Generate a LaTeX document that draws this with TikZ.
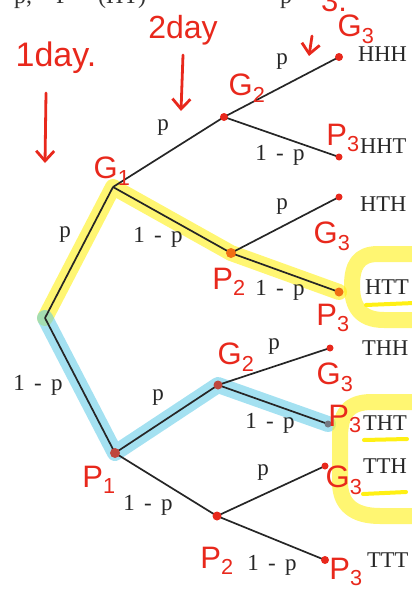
\documentclass[tikz,border=0pt]{standalone}
\usepackage{fontspec}
\setmainfont{Liberation Serif}
\newfontfamily\handfont{Liberation Sans}
\usetikzlibrary{arrows.meta}
\definecolor{annred}{RGB}{232,40,28}
\definecolor{dotorange}{RGB}{240,110,20}
\definecolor{dotbrown}{RGB}{190,70,60}
\definecolor{dotgray}{RGB}{115,120,130}
\definecolor{hlyellow}{RGB}{255,240,20}
\definecolor{hlcyan}{RGB}{90,200,230}
\begin{document}
\begin{tikzpicture}[x=1pt,y=-1pt,
  edge/.style={draw=black!85,line width=1.7pt},
  outcome/.style={font=\fontsize{22.5}{22.5}\selectfont,anchor=west,inner sep=0pt,text=black!85},
  lab/.style={font=\fontsize{23}{23}\selectfont,inner sep=0pt,text=black!85},
  toptext/.style={font=\fontsize{24}{24}\selectfont,anchor=base west,inner sep=0pt,text=black!80},
  ann/.style={font=\handfont\fontsize{31}{31}\selectfont,inner sep=0pt,text=annred},
  dot/.style={circle,fill=annred,minimum size=8pt,inner sep=0pt},
  hly/.style={draw=hlyellow,opacity=0.6,line width=16pt,line cap=round,line join=round},
  hlc/.style={draw=hlcyan,opacity=0.55,line width=16pt,line cap=round,line join=round},
  uline/.style={draw=hlyellow,line width=4pt,line cap=round},
  annarrow/.style={draw=annred,line width=2.8pt,line cap=round,-{Straight Barb[length=10pt,width=18pt,line width=2.8pt]}}
]
\useasboundingbox (0,0) rectangle (412,594);
\clip (0,0) rectangle (412,594);

% tree points
\coordinate (r) at (45,318);
\coordinate (g1) at (113,187);
\coordinate (p1) at (115,453);
\coordinate (g2a) at (224,117);
\coordinate (p2a) at (231,253);
\coordinate (g2b) at (218,385);
\coordinate (p2b) at (217,516);
\coordinate (ehhh) at (339,57);
\coordinate (ehht) at (339,157);
\coordinate (ehth) at (339,197);
\coordinate (ehtt) at (339,292);
\coordinate (ethh) at (330,348);
\coordinate (etht) at (328,424);
\coordinate (etth) at (325,466);
\coordinate (ettt) at (325,560);

% highlighter
\draw[hly] (r) -- (g1) -- (p2a) -- (ehtt);
\draw[hlc] (r) -- (p1) -- (g2b) -- (etht);
\draw[hly] (414,254) -- (378,254) .. controls (358,254) and (352,266) .. (352,286)
  .. controls (352,306) and (360,320) .. (384,320) -- (414,320);
\draw[hly] (414,402) -- (372,402) .. controls (347,402) and (340,415) .. (340,438)
  -- (340,482) .. controls (340,505) and (354,516) .. (380,516) -- (414,516);
\draw[uline] (366,305) -- (414,303);
\draw[uline] (364,440) -- (407,439);
\draw[uline] (363,494) -- (406,492);

% edges
\draw[edge] (r) -- (g1);
\draw[edge] (r) -- (p1);
\draw[edge] (g1) -- (g2a);
\draw[edge] (g1) -- (p2a);
\draw[edge] (p1) -- (g2b);
\draw[edge] (p1) -- (p2b);
\draw[edge] (g2a) -- (ehhh);
\draw[edge] (g2a) -- (ehht);
\draw[edge] (p2a) -- (ehth);
\draw[edge] (p2a) -- (ehtt);
\draw[edge] (g2b) -- (ethh);
\draw[edge] (g2b) -- (etht);
\draw[edge] (p2b) -- (etth);
\draw[edge] (p2b) -- (ettt);

% edge labels
\node[lab] (l1) at (65,235) {p};
\node[lab] (l2) at (38,385) {1\hspace{0.4em}-\hspace{0.4em}p};
\node[lab] (l3) at (163,128) {p};
\node[lab] (l4) at (158,237) {1\hspace{0.4em}-\hspace{0.4em}p};
\node[lab] (l5) at (282,62) {p};
\node[lab] (l6) at (280,155) {1\hspace{0.4em}-\hspace{0.4em}p};
\node[lab] (l7) at (282,207) {p};
\node[lab] (l8) at (280,290) {1\hspace{0.4em}-\hspace{0.4em}p};
\node[lab] (l9) at (274,347) {p};
\node[lab] (l10) at (270,423) {1\hspace{0.4em}-\hspace{0.4em}p};
\node[lab] (l11) at (158,398) {p};
\node[lab] (l12) at (148,505) {1\hspace{0.4em}-\hspace{0.4em}p};
\node[lab] (l13) at (263,473) {p};
\node[lab] (l14) at (272,565) {1\hspace{0.4em}-\hspace{0.4em}p};

% outcomes
\node[outcome] (oHHH) at (358,54) {HHH};
\node[outcome] (oHHT) at (360,146) {HHT};
\node[outcome] (oHTH) at (360,204) {HTH};
\node[outcome] (oHTT) at (365,287) {HTT};
\node[outcome] (oTHH) at (362,348) {THH};
\node[outcome] (oTHT) at (363,423) {THT};
\node[outcome] (oTTH) at (363,466) {TTH};
\node[outcome] (oTTT) at (367,560) {TTT};

% clipped text at top
\node[toptext] (t1) at (14,4) {p,};
\node[toptext] (t2) at (56,4) {P};
\node[toptext] (t3) at (98,4) {(HT)};
\node[toptext] (t4) at (216,4) {=};
\node[toptext] (t5) at (280,4) {p};

% dots
\node[dot] (dg2a) at (g2a) {};
\node[dot] (dhhh) at (ehhh) {};
\node[dot,minimum size=7pt] (dhht) at (ehht) {};
\node[dot,minimum size=7pt] (dhth) at (ehth) {};
\node[dot,fill=dotorange,minimum size=10pt] (dp2a) at (p2a) {};
\node[dot,fill=dotorange,minimum size=9pt] (dhtt) at (ehtt) {};
\node[dot,minimum size=7pt] (dthh) at (ethh) {};
\node[dot,fill=dotbrown,minimum size=9pt] (dg2b) at (g2b) {};
\node[dot,fill=dotgray,minimum size=7pt] (dtht) at (etht) {};
\node[dot,minimum size=7pt] (dtth) at (etth) {};
\node[dot,fill=dotbrown,minimum size=10pt] (dp1) at (p1) {};
\node[dot,minimum size=9pt] (dp2b) at (p2b) {};
\node[dot,minimum size=8pt] (dttt) at (ettt) {};

% handwritten annotations
\node[ann,font=\handfont\fontsize{34}{34}\selectfont] (a1) at (56,58) {1day.};
\node[ann,font=\handfont\fontsize{32}{32}\selectfont] (a2) at (183,30) {2day};
\node[ann] (a3) at (334,1) {3.};
\coordinate (a1s) at (46,93);
\coordinate (a1e) at (45,163);
\coordinate (a2s) at (183,55);
\coordinate (a2e) at (181,111);
\coordinate (a3s) at (312,36);
\coordinate (a3e) at (309,56);
\draw[annarrow] (a1s) -- (a1e);
\draw[annarrow] (a2s) -- (a2e);
\draw[annarrow] (a3s) -- (a3e);

\node[ann] (nG1) at (112,171) {G\textsubscript{1}};
\node[ann] (nG2a) at (247,88) {G\textsubscript{2}};
\node[ann] (nG3a) at (356,29) {G\textsubscript{3}};
\node[ann] (nP3a) at (343,138) {P\textsubscript{3}};
\node[ann] (nG3b) at (332,236) {G\textsubscript{3}};
\node[ann] (nP2a) at (229,282) {P\textsubscript{2}};
\node[ann] (nP3b) at (333,318) {P\textsubscript{3}};
\node[ann] (nG2b) at (236,357) {G\textsubscript{2}};
\node[ann] (nG3c) at (335,377) {G\textsubscript{3}};
\node[ann] (nP3c) at (345,419) {P\textsubscript{3}};
\node[ann] (nG3d) at (344,480) {G\textsubscript{3}};
\node[ann] (nP1) at (99,480) {P\textsubscript{1}};
\node[ann] (nP2b) at (217,561) {P\textsubscript{2}};
\node[ann] (nP3d) at (346,572) {P\textsubscript{3}};
\end{tikzpicture}
\end{document}
